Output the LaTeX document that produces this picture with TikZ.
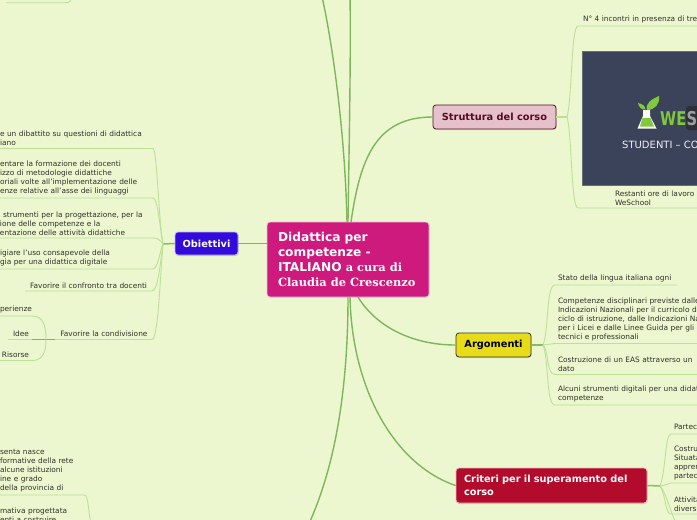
\documentclass[tikz,border=0pt]{standalone}
\usepackage{fontspec}
\usepackage{xcolor}
\usepackage{tikz}
\usetikzlibrary{positioning, calc, shadows}
\setmainfont{DejaVu Sans}
\newfontfamily\serifbold{DejaVu Serif}
\definecolor{mapbg}{RGB}{236,247,208}
\definecolor{mainline}{RGB}{126,182,92}
\definecolor{subline}{RGB}{187,224,150}
\definecolor{leaftext}{RGB}{48,48,40}
\definecolor{rootpink}{RGB}{207,26,125}
\definecolor{strutfill}{RGB}{228,193,203}
\definecolor{strutdark}{RGB}{90,10,36}
\definecolor{argfill}{RGB}{232,220,25}
\definecolor{critred}{RGB}{179,11,43}
\definecolor{obiblue}{RGB}{50,10,220}
\definecolor{slate}{RGB}{58,67,90}
\definecolor{leafgreen}{RGB}{128,200,60}
\definecolor{logobox}{RGB}{46,48,56}

\begin{document}
\begin{tikzpicture}[x=1pt, y=-1pt,
  root/.style={rectangle, rounded corners=3pt, draw=white!70!rootpink, fill=rootpink,
               minimum width=162pt, minimum height=75pt, text width=140pt, align=left,
               inner sep=0pt, line width=0.8pt, text=white, font=\fontsize{12.2}{15}\selectfont\bfseries},
  topic/.style={rectangle, rounded corners=3pt, line width=0.8pt, align=left, inner sep=0pt,
                font=\fontsize{9.8}{13}\selectfont\bfseries,
                drop shadow={shadow xshift=0.6pt, shadow yshift=-1pt, opacity=0.25}},
  leaf/.style={anchor=south west, inner xsep=3pt, inner ysep=2.6pt, outer sep=0pt, align=left,
               text=leaftext, font=\fontsize{7.4}{9}\selectfont},
  mainarr/.style={line width=1.4pt, color=mainline},
  stemarr/.style={line width=1.5pt, color=mainline!85!subline},
  subarr/.style={line width=0.9pt, color=subline}
]
\useasboundingbox (0,0) rectangle (697,520);
\clip (0,0) rectangle (697,520);
\fill[mapbg] (0,0) rectangle (697,520);

% ── Free ends that leave the sheet ───────────────────────────────────────
\coordinate (topA) at (321,-8);
\coordinate (topB) at (350,-8);
\coordinate (botA) at (306,530);
\coordinate (critJ) at (660,486);
\coordinate (strutJ) at (567,117);
\coordinate (argJ) at (543,345);
\coordinate (obiJ) at (163,244);
\coordinate (condJ) at (46,339);
\coordinate (critEnd) at (680,530);
\coordinate (cornerA) at (6,2.7);
\coordinate (cornerB) at (66,2.7);
\coordinate (cornerC) at (73,-6);
\coordinate (leftEnd) at (92,535);

% ── Root and the four topics ─────────────────────────────────────────────
\node[root] (root) at (348,259.5)
      {Didattica per\\competenze -\\ITALIANO {\serifbold\fontsize{11.4}{15}\selectfont a cura di}\\{\serifbold\fontsize{11.4}{15}\selectfont Claudia de Crescenzo}};
\node[topic, draw=strutdark, fill=strutfill, text=strutdark, minimum width=123pt, minimum height=24pt, align=center] (strut) at (494.5,117) {Struttura del corso};
\node[topic, draw=black!80, fill=argfill, text=black, minimum width=75pt, minimum height=24pt, align=center] (arg) at (493.5,345) {Argomenti};
\node[topic, draw=white!70!critred, fill=critred, text=white, minimum width=191pt, minimum height=35pt, text width=175pt] (crit) at (551.5,485.5) {Criteri per il superamento del\\corso};
\node[topic, draw=white!70!obiblue, fill=obiblue, text=white, minimum width=63pt, minimum height=23pt, align=center] (obi) at (206.5,243.5) {Obiettivi};

% ── Arrows: root → topics ────────────────────────────────────────────────
\draw[mainarr] (root.north) ++(0,0) .. controls (349,150) and (351,60) .. (topB);
\draw[mainarr] (347,222) .. controls (345,130) and (332,40) .. (topA);
\draw[mainarr] (351,222) .. controls (360,160) and (375,117) .. (strut.west);
\draw[mainarr] (root.west |- obi.west) -- (obi.east);
\draw[mainarr] (358,297) .. controls (375,325) and (410,345) .. (arg.west);
\draw[mainarr] (350,297) .. controls (352,390) and (395,465) .. (crit.west);
\draw[mainarr] (348,297) .. controls (348,390) and (335,470) .. (botA);

% ── Struttura del corso ──────────────────────────────────────────────────
\node[leaf, text width=200pt] (incontri) at (578,26) {\hspace{2pt}N° 4 incontri in presenza di tre};
\node[leaf, text width=200pt] (restanti) at (578,208) {\hspace{34pt}Restanti ore di lavoro\\\hspace{34pt}WeSchool};
\node[draw=gray!70!slate, line width=0.5pt, fill=slate, minimum width=140pt, minimum height=134.5pt, inner sep=0pt, anchor=north west] (logoimg) at (582,50.5) {};

% logo inside the picture
\fill[white] (643,110) -- (650,110) -- (650,116) -- (656.5,128.5) -- (637.5,128.5) -- (643,116) -- cycle;
\fill[leafgreen] (642.5,118) -- (650.5,118) -- (654,126.5) -- (640,126.5) -- cycle;
\fill[leafgreen] (647,110) .. controls (645,103) and (652,99) .. (659,96) .. controls (660,104) and (655,110) .. (647,110) -- cycle;
\fill[leafgreen] (645.5,109.5) .. controls (645,105) and (642,104) .. (638,103) .. controls (639,107) and (641,110) .. (645.5,109.5) -- cycle;
\node[anchor=west, inner sep=0pt, text=leafgreen, font=\fontsize{19}{19}\selectfont\bfseries, xscale=0.77, transform shape] (logoword) at (660,119) {WE};
\fill[logobox, rounded corners=3pt] (686,106) rectangle (715,130);
\node[anchor=west, inner sep=0pt, text=gray!75, font=\fontsize{19}{19}\selectfont\bfseries, xscale=0.77, transform shape] (logoS) at (686.5,119) {S};
\node[anchor=west, inner sep=0pt, text=white!92!slate, font=\fontsize{10}{10}\selectfont] (logotext) at (622,144.5) {STUDENTI – CO};

\draw[stemarr, color=subline] (strut.east) -- (strutJ);
\draw[subarr] (strutJ) .. controls (572,100) and (571,26) .. (incontri.south west) -- (incontri.south east);
\draw[subarr] (strutJ) .. controls (572,134) and (571,208) .. (restanti.south west) -- (restanti.south east);

% ── Argomenti ────────────────────────────────────────────────────────────
\node[leaf, text width=116pt] (stato) at (555,285) {Stato della lingua italiana ogni};
\node[leaf, text width=200pt] (compet) at (555,343.5) {Competenze disciplinari previste dalle\\Indicazioni Nazionali per il curricolo del\\ciclo di istruzione, dalle Indicazioni Nazionali\\per i Licei e dalle Linee Guida per gli istituti\\tecnici e professionali};
\node[leaf, text width=200pt] (eas) at (555,374.5) {Costruzione di un EAS attraverso un\\dato};
\node[leaf, text width=200pt] (alcuni) at (555,405) {Alcuni strumenti digitali per una didattica per\\competenze};

\draw[stemarr] (arg.east) -- (argJ);
\draw[subarr] (argJ) .. controls (549,330) and (546,285) .. (stato.south west) -- (stato.south east);
\draw[subarr] (argJ) -- (compet.south west) -- (compet.south east);
\draw[subarr] (argJ) .. controls (549,350) and (546,374.5) .. (eas.south west) -- (eas.south east);
\draw[subarr] (argJ) .. controls (549,360) and (546,405) .. (alcuni.south west) -- (alcuni.south east);

% ── Criteri per il superamento del corso ─────────────────────────────────
\node[leaf, text width=100pt] (partec) at (671,434) {Partecipazione};
\node[leaf, text width=100pt] (costru) at (671,483) {Costruzione\\Situata di\\apprendimento\\partecipazione};
\node[leaf, text width=100pt] (attiv) at (671,514) {Attività\\diverse};

\draw[stemarr] (crit.east) -- (critJ);
\draw[subarr] (critJ) .. controls (666,470) and (665,434) .. (partec.south west) -- (partec.south east);
\draw[subarr] (critJ) .. controls (665,486) and (667,483) .. (costru.south west) -- (costru.south east);
\draw[subarr] (critJ) .. controls (666,495) and (665,514) .. (attiv.south west) -- (attiv.south east);
\draw[subarr] (critJ) .. controls (668,495) and (670,515) .. (critEnd);

% ── Obiettivi ────────────────────────────────────────────────────────────
\node[leaf, text width=150pt] (dibatt) at (-3,148.5) {e un dibattito su questioni di didattica\\iano};
\node[leaf, text width=150pt] (format) at (-3,198) {entare la formazione dei docenti\\izzo di metodologie didattiche\\oriali volte all'implementazione delle\\enze relative all'asse dei linguaggi};
\node[leaf, text width=150pt] (strum) at (-3,238) {\hspace{3pt}strumenti per la progettazione, per la\\ione delle competenze e la\\entazione delle attività didattiche};
\node[leaf, text width=150pt] (tecno) at (-3,269) {igiare l'uso consapevole della\\gia per una didattica digitale};
\node[leaf, inner xsep=5pt, text width=117pt, align=right] (confronto) at (25,291) {Favorire il confronto tra docenti};
\node[leaf, inner xsep=4.5pt, text width=88pt, align=right] (condiv) at (55,339.5) {Favorire la condivisione};

\draw[stemarr] (obi.west) -- (obiJ);
\draw[subarr] (obiJ) .. controls (159,225) and (157,148.5) .. (dibatt.south east) -- (dibatt.south west);
\draw[subarr] (obiJ) .. controls (160,230) and (158,198) .. (format.south east) -- (format.south west);
\draw[subarr] (obiJ) .. controls (160,240) and (158,238) .. (strum.south east) -- (strum.south west);
\draw[subarr] (obiJ) .. controls (160,250) and (158,269) .. (tecno.south east) -- (tecno.south west);
\draw[subarr] (obiJ) .. controls (160,265) and (158,291) .. (confronto.south east) -- (confronto.south west);
\draw[subarr] (obiJ) .. controls (160,280) and (158,339.5) .. (condiv.south east) -- (condiv.south west);

% ── Favorire la condivisione: the three sharing items ────────────────────
\node[leaf, text width=29pt, align=right] (esper) at (-3,316) {perienze};
\node[leaf, text width=18pt, align=right] (idee) at (8,339.5) {Idee};
\node[leaf, text width=29pt, align=right] (risorse) at (-3,360.5) {Risorse};

\draw[mainarr, line width=0.9pt] (condiv.south west) -- (idee.south east);
\draw[subarr] (idee.south east) -- (idee.south west);
\draw[subarr] (condJ) .. controls (46,325) and (43,316) .. (esper.south east) -- (esper.south west);
\draw[subarr] (condJ) .. controls (46,352) and (43,360.5) .. (risorse.south east) -- (risorse.south west);

% ── Lower left and upper left fragments ──────────────────────────────────
\node[leaf, text width=81pt] (rete) at (-3,495) {senta nasce\\formative della rete\\alcune istituzioni\\ine e grado\\della provincia di\\ };
\node[leaf, inner ysep=0pt, text width=81pt] (corso) at (-3,523) {mativa progettata\\enti a costruire};

\draw[subarr] (rete.south west) -- (rete.south east) .. controls (88,495) and (88,505) .. (leftEnd);
\draw[subarr] (cornerA) -- (cornerB) .. controls (70,2.7) and (71,1) .. (cornerC);

\end{tikzpicture}
\end{document}
